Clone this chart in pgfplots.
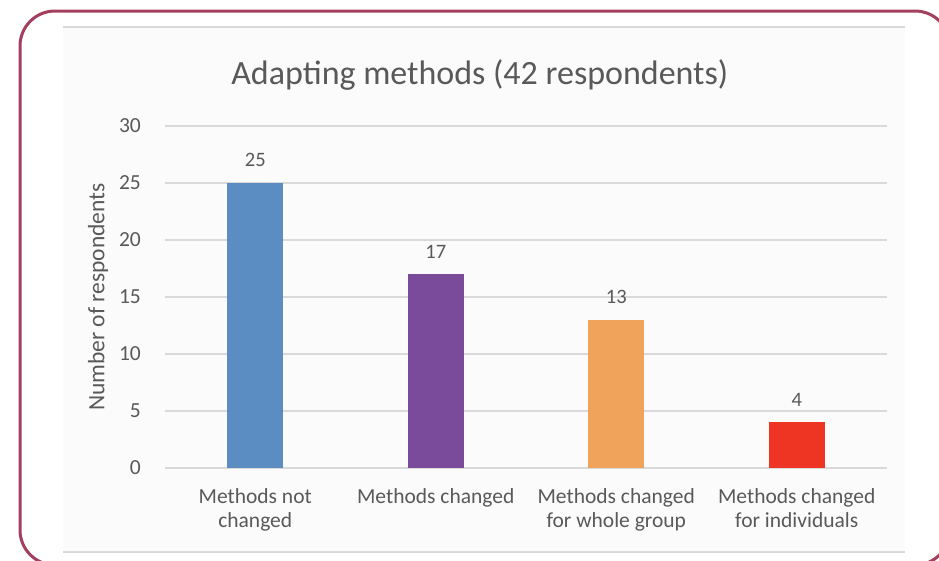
\documentclass[border=0pt]{standalone}
\usepackage{pgfplots}
\pgfplotsset{compat=1.18}
\usepackage{fontspec}
\setmainfont{Carlito}
\definecolor{bordercol}{HTML}{A3405E}
\definecolor{txt}{HTML}{595959}
\definecolor{gridcol}{HTML}{D9D9D9}
\definecolor{b1}{HTML}{5B8DC2}
\definecolor{b2}{HTML}{7A4A9B}
\definecolor{b3}{HTML}{F0A35B}
\definecolor{b4}{HTML}{EE3524}
\begin{document}
\begin{tikzpicture}
\useasboundingbox (0,0) rectangle (939bp,-561bp);
\fill[white] (0,0) rectangle (939bp,-561bp);
\fill[black!1.5] (63bp,-27bp) rectangle (905bp,-552bp);
\draw[gridcol, line width=1.2bp] (63bp,-27bp) -- (905bp,-27bp);
\draw[gridcol, line width=1.2bp] (63bp,-552bp) -- (905bp,-552bp);
\draw[bordercol, line width=3bp, rounded corners=35bp] (20bp,-11bp) rectangle (950bp,-565bp);
\begin{axis}[
  at={(165bp,-468bp)}, anchor=south west,
  scale only axis, width=722bp, height=342bp,
  xmin=-0.5, xmax=3.5, ymin=0, ymax=30,
  ytick={0,5,...,30}, xtick={0,1,2,3},
  xticklabels={{Methods not\\changed},{Methods changed},{Methods changed\\for whole group},{Methods changed\\for individuals}},
  ymajorgrids, grid style={gridcol, line width=1.2bp},
  axis line style={draw=none}, major tick length=0,
  /pgf/number format/assume math mode=true,
  tick label style={font=\fontsize{21.5bp}{24bp}\selectfont, text=txt},
  xticklabel style={align=center, inner sep=0pt, yshift=-20bp},
  yticklabel style={inner sep=0pt, xshift=-24bp},
  ybar, bar width=56bp, bar shift=0pt,
  nodes near coords,
  every node near coord/.append style={font=\fontsize{20.5bp}{24bp}\selectfont, text=txt, inner sep=0pt, yshift=16bp},
  title={Adapting methods (42 respondents)},
  title style={at={(axis description cs:0.436,1.133)}, anchor=center, font=\fontsize{34bp}{40bp}\selectfont, text=txt},
  ylabel={Number of respondents},
  ylabel style={at={(axis description cs:-0.0928,0.5)}, anchor=center, font=\fontsize{23.5bp}{28bp}\selectfont, text=txt},
]
\addplot[fill=b1, draw=none] coordinates {(0,25)};
\addplot[fill=b2, draw=none] coordinates {(1,17)};
\addplot[fill=b3, draw=none] coordinates {(2,13)};
\addplot[fill=b4, draw=none] coordinates {(3,4)};
\end{axis}
\end{tikzpicture}
\end{document}
